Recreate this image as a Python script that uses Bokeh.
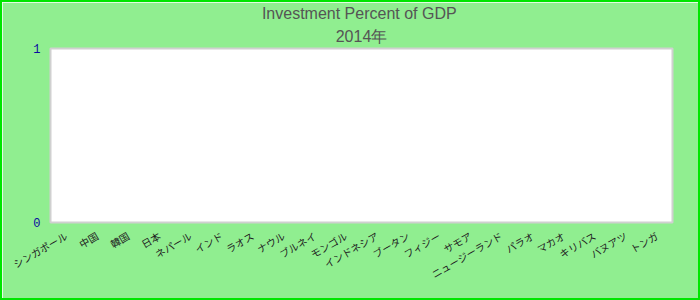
import math
from bokeh.plotting import figure
from bokeh.models import FactorRange, Range1d, FixedTicker, Title
from bokeh.embed import file_html
from bokeh.resources import INLINE

# ---- data -------------------------------------------------------------
title_line1 = "Investment  Percent of GDP"
title_line2 = "2014年"
countries = [
    "シンガポール", "中国", "韓国", "日本", "ネパール", "インド", "ラオス", "ナウル",
    "ブルネイ", "モンゴル", "インドネシア", "ブータン", "フィジー", "サモア",
    "ニュージーランド", "パラオ", "マカオ", "キリバス", "バヌアツ", "トンガ",
]
nan = float("nan")
values = [nan, nan, nan, nan, nan, nan, nan, nan, nan, nan,
          nan, nan, nan, nan, nan, nan, nan, nan, nan, nan]
y_ticks = [0, 1]

# ---- figure -----------------------------------------------------------
p = figure(
    width=700, height=300,
    x_range=FactorRange(*countries, range_padding=0),
    y_range=Range1d(0, 1),
    output_backend="svg", toolbar_location=None,
    min_border_left=48, min_border_right=30,
    min_border_top=40, min_border_bottom=80,
    background_fill_color="white",
    border_fill_color="#90EE90",
)
p.styles = {"border": "2px solid #00e600"}
p.outline_line_color = "#d0d0d0"
p.outline_line_width = 2

p.vbar(x=countries, top=values, width=0.6, color="#4572a7")

p.title = None
p.add_layout(Title(text=title_line2, align="center", text_font="Liberation Sans",
                   text_font_size="16px", text_font_style="normal",
                   text_color="#555555", standoff=8, offset=0), "above")
p.add_layout(Title(text=title_line1, align="center", text_font="Liberation Sans",
                   text_font_size="16px", text_font_style="normal",
                   text_color="#555555", standoff=0, offset=0), "above")

p.xgrid.visible = False
p.ygrid.visible = False

ya = p.yaxis[0]
ya.ticker = FixedTicker(ticks=y_ticks)
ya.axis_line_color = None
ya.major_tick_line_color = None
ya.minor_tick_line_color = None
ya.major_label_text_color = "#0a0aa0"
ya.major_label_text_font = "Liberation Mono"
ya.major_label_text_font_size = "12px"
ya.major_label_standoff = 4

xa = p.xaxis[0]
xa.axis_line_color = None
xa.major_tick_line_color = None
xa.minor_tick_line_color = None
xa.major_label_orientation = math.pi / 6
xa.major_label_text_font = "Noto Sans CJK JP"
xa.major_label_text_font_size = "10px"
xa.major_label_text_color = "#222222"
xa.major_label_standoff = 6

open("out.html", "w").write(file_html(p, INLINE))
